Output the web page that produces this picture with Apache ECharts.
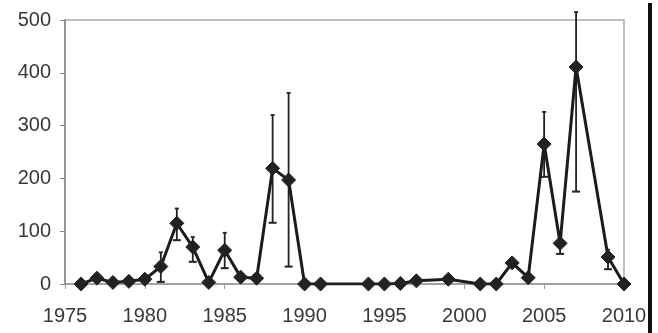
<!DOCTYPE html>
<html>
<head>
<meta charset="utf-8">
<script src="https://cdn.jsdelivr.net/npm/echarts@6/dist/echarts.min.js"></script>
<style>
  html, body { margin: 0; padding: 0; background: #fff; }
  #chart { width: 658px; height: 333px; }
</style>
</head>
<body>
<div id="chart"></div>
<script>
// Survey years with observations
const years = [1976, 1977, 1978, 1979, 1980, 1981, 1982, 1983, 1984, 1985, 1986, 1987, 1988, 1989,
               1990, 1991, 1994, 1995, 1996, 1997, 1999, 2001, 2002, 2003, 2004, 2005, 2006, 2007, 2009, 2010];
// Mean values per year
const means = [0, 11, 3, 5, 9, 33, 115, 70, 3, 64, 13, 11, 219, 197,
               0, 0, 0, 0, 1, 6, 9, 0, 0, 40, 12, 265, 77, 411, 51, 0];
// Error bar ends (null where no bar)
const errLow  = [null, null, null, null, null, 4, 83, 42, null, 30, null, null, 116, 33,
                 null, null, null, null, null, null, null, null, null, null, null, 203, 57, 175, 28, null];
const errHigh = [null, null, null, null, null, 60, 143, 89, null, 97, null, null, 320, 362,
                 null, null, null, null, null, null, null, null, null, null, null, 326, 90, 515, 65, null];
const yTicks = [0, 100, 200, 300, 400, 500];
const xTicks = [1975, 1980, 1985, 1990, 1995, 2000, 2005, 2010];

const lineData = years.map((y, i) => [y, means[i]]);
const errData = [];
years.forEach((y, i) => {
  if (errLow[i] !== null) errData.push([y, errLow[i], errHigh[i]]);
});

const chart = echarts.init(document.getElementById('chart'), null, { renderer: 'canvas' });
const labelStyle = { color: '#383838', fontSize: 20, fontFamily: 'Liberation Sans, Arial, sans-serif' };

chart.setOption({
  animation: false,
  backgroundColor: '#fff',
  grid: { left: 65, right: 34, top: 20, bottom: 49, show: true, borderColor: '#aaa', borderWidth: 1.5 },
  xAxis: {
    type: 'value', min: 1975, max: 2010, interval: 5,
    axisLine: { show: true, lineStyle: { color: '#999', width: 1.5 } },
    axisTick: { show: true, length: 5, lineStyle: { color: '#999' } },
    splitLine: { show: false },
    axisLabel: Object.assign({ margin: 22, formatter: v => xTicks.includes(v) ? String(v) : '' }, labelStyle)
  },
  yAxis: {
    type: 'value', min: 0, max: 500, interval: 100,
    axisLine: { show: true, lineStyle: { color: '#888', width: 1.5 } },
    axisTick: { show: true, length: 5, lineStyle: { color: '#888' } },
    splitLine: { show: false },
    axisLabel: Object.assign({ margin: 14, formatter: v => yTicks.includes(v) ? String(v) : '' }, labelStyle)
  },
  series: [
    {
      type: 'custom',
      clip: false,
      z: 2,
      renderItem: function (params, api) {
        const x = api.value(0);
        const lo = api.coord([x, api.value(1)]);
        const hi = api.coord([x, api.value(2)]);
        const cap = 4;
        const style = { stroke: '#222', lineWidth: 1.8 };
        return {
          type: 'group',
          children: [
            { type: 'line', shape: { x1: lo[0], y1: lo[1], x2: hi[0], y2: hi[1] }, style },
            { type: 'line', shape: { x1: lo[0] - cap, y1: lo[1], x2: lo[0] + cap, y2: lo[1] }, style: { stroke: '#222', lineWidth: 2 } },
            { type: 'line', shape: { x1: hi[0] - 2, y1: hi[1], x2: hi[0] + 2, y2: hi[1] }, style: { stroke: '#222', lineWidth: 1.8 } }
          ]
        };
      },
      encode: { x: 0, y: [1, 2] },
      data: errData
    },
    {
      type: 'line',
      z: 3,
      data: lineData,
      symbol: 'diamond',
      symbolSize: 14,
      lineStyle: { color: '#1c1c1c', width: 3 },
      itemStyle: { color: '#222', borderColor: '#222' }
    }
  ],
  graphic: [
    { type: 'rect', shape: { x: 648, y: 3, width: 4, height: 330 }, style: { fill: '#111' }, silent: true }
  ]
});
</script>
</body>
</html>
